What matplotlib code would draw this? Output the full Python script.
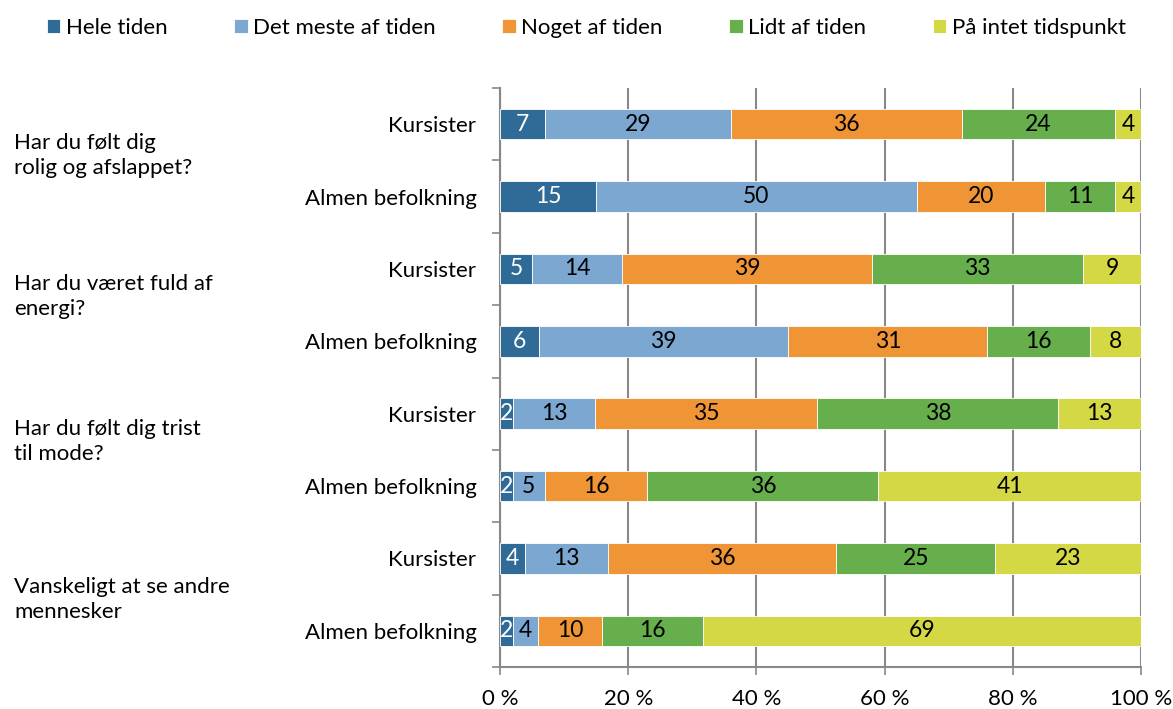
import matplotlib.pyplot as plt
import numpy as np

plt.rcParams['font.family'] = ['Lato', 'DejaVu Sans']

series = ['Hele tiden', 'Det meste af tiden', 'Noget af tiden', 'Lidt af tiden', 'På intet tidspunkt']
colors = ['#2F6B96', '#7BA7D1', '#F09535', '#67AE4D', '#D3D844']
label_colors = ['white', 'black', 'black', 'black', 'black']

rows = ['Kursister', 'Almen befolkning'] * 4
questions = ['Har du følt dig\nrolig og afslappet?', 'Har du været fuld af\nenergi?',
             'Har du følt dig trist\ntil mode?', 'Vanskeligt at se andre\nmennesker']

hele = [7, 15, 5, 6, 2, 2, 4, 2]
meste = [29, 50, 14, 39, 13, 5, 13, 4]
noget = [36, 20, 39, 31, 35, 16, 36, 10]
lidt = [24, 11, 33, 16, 38, 36, 25, 16]
intet = [4, 4, 9, 8, 13, 41, 23, 69]

data = np.array([hele, meste, noget, lidt, intet], dtype=float)
pct = data / data.sum(axis=0) * 100

fs = 16

fig = plt.figure(figsize=(11.73, 7.09), dpi=100)
ax = fig.add_axes([0.4263, 0.0592, 0.5464, 0.8167])

y = np.arange(len(rows))
left = np.zeros(len(rows))
for i, name in enumerate(series):
    ax.barh(y, pct[i], left=left, height=0.42, color=colors[i], label=name,
            edgecolor='white', linewidth=0.6, zorder=3)
    for j in range(len(rows)):
        ax.text(left[j] + pct[i][j] / 2, y[j], f'{int(data[i][j])}', ha='center', va='center',
                fontsize=16.5, color=label_colors[i], zorder=4)
    left += pct[i]

ax.set_xlim(0, 100)
ax.set_ylim(len(rows) - 0.5, -0.5)
ax.set_xticks(np.arange(0, 101, 20))
ax.set_xticklabels([f'{v} %' for v in range(0, 101, 20)], fontsize=fs)
ax.set_yticks(y)
ax.set_yticklabels(rows, fontsize=fs)
ax.set_yticks(np.arange(-0.5, len(rows), 1), minor=True)
ax.tick_params(axis='y', which='major', length=0, pad=17)
ax.tick_params(axis='y', which='minor', length=6, color='#888888', width=1.2)
ax.tick_params(axis='x', length=6, color='#888888', width=1.2, pad=10)
ax.grid(axis='x', color='#888888', linewidth=1.5, zorder=0)
for s in ['top', 'right']:
    ax.spines[s].set_visible(False)
for s in ['left', 'bottom']:
    ax.spines[s].set_color('#888888')
    ax.spines[s].set_linewidth(1.5)

# small vertical nudges for the question labels
q_shift = [-0.07, -0.12, -0.12, 0.07]
for k, q in enumerate(questions):
    ax.text(-0.758, 2 * k + 0.5 + q_shift[k], q, transform=ax.get_yaxis_transform(),
            ha='left', va='center', fontsize=fs, linespacing=1.3)

fig.legend(loc='upper center', bbox_to_anchor=(0.5, 1.003), ncol=5, frameon=False, fontsize=fs,
           handlelength=0.6, handleheight=0.6, handletextpad=0.25, columnspacing=3.0)

fig.savefig('out.png', dpi=100)
